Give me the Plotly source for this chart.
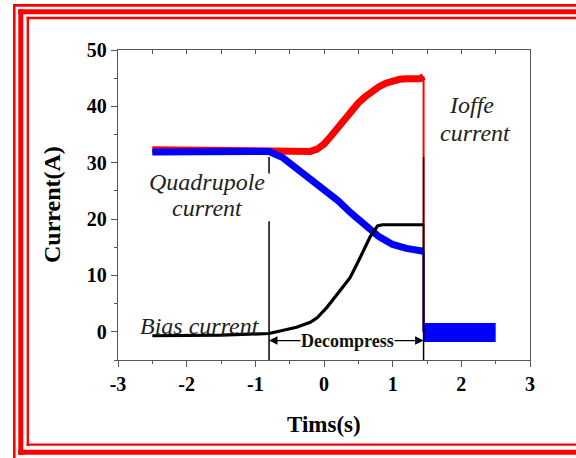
import plotly.graph_objects as go

# ---- measured currents (A) versus time (s) ----
ioffe_t = [-2.5, -1.5, -0.8, -0.2, -0.1, 0.0, 0.1, 0.2, 0.3, 0.4, 0.5, 0.6, 0.7, 0.8, 0.9,
           1.0, 1.1, 1.2, 1.4, 1.45]
ioffe_i = [32.3, 32.2, 32.1, 32.0, 32.4, 33.3, 34.7, 36.3, 37.9, 39.3, 40.6, 41.7, 42.7, 43.5,
           44.1, 44.6, 44.8, 44.9, 44.9, 45.3]

quad_t = [-2.5, -1.5, -0.8, -0.6, -0.4, -0.2, 0.0, 0.2, 0.4, 0.6, 0.8, 1.0, 1.2, 1.45]
quad_i = [31.9, 31.9, 32.0, 30.9, 29.0, 27.0, 25.2, 23.3, 21.0, 18.9, 16.9, 15.5, 14.8, 14.3]

bias_t = [-2.5, -1.5, -0.8, -0.6, -0.4, -0.2, -0.1, 0.04, 0.23, 0.38, 0.52, 0.67, 0.78, 0.85, 1.45]
bias_i = [-0.7, -0.6, -0.3, 0.2, 0.8, 1.7, 2.5, 4.3, 7.3, 9.6, 13.0, 16.8, 18.8, 19.0, 19.0]

# switch-off: all coils drop to zero at the end of decompression
switch_t = 1.45
switch_level = 0.0

# residual current after the coils are switched off
tail_t = [1.45, 2.5]
tail_i = [-0.1, -0.1]

# decompression window
decomp_start = -0.8
decomp_end = 1.45
marker_top = 31.0
arrow_level = -1.55

x_ticks = [-3, -2, -1, 0, 1, 2, 3]
y_ticks = [0, 10, 20, 30, 40, 50]

# ---- page geometry ----
W, H = 576, 458
L, R, T, B = 118, 530, 50, 360


def px(x):
    return (x - L) / (R - L)


def py(y):
    return (B - y) / (B - T)


SERIF = "Liberation Serif"
AXIS_COLOR = "#555555"
RED, BLUE, BLACK = "#ff0000", "#0000ff", "#000000"

fig = go.Figure()


def add_line(x, y, color, width):
    fig.add_trace(go.Scatter(x=x, y=y, mode="lines", line=dict(color=color, width=width),
                             showlegend=False, hoverinfo="skip"))


add_line(ioffe_t, ioffe_i, RED, 7)
add_line([switch_t, switch_t], [ioffe_i[-1], switch_level], RED, 2)
add_line(quad_t, quad_i, BLUE, 7)
add_line([switch_t, switch_t], [quad_i[-1], switch_level], BLUE, 2)
add_line(tail_t, tail_i, BLUE, 19)
add_line(bias_t, bias_i, BLACK, 3.2)
add_line([switch_t, switch_t], [bias_i[-1], switch_level], BLACK, 1.5)
# carrier for the top axis
fig.add_trace(go.Scatter(x=[], y=[], xaxis="x2", showlegend=False))

shapes = []
# start / end markers of the decompression stage
shapes.append(dict(type="line", xref="x", yref="y", x0=decomp_start, x1=decomp_start,
                   y0=-5, y1=19.6, line=dict(color="black", width=1.5)))
shapes.append(dict(type="line", xref="x", yref="y", x0=decomp_start, x1=decomp_start,
                   y0=28.1, y1=marker_top, line=dict(color="black", width=1.5)))
shapes.append(dict(type="line", xref="x", yref="y", x0=decomp_end, x1=decomp_end,
                   y0=-5, y1=marker_top, line=dict(color="black", width=1.5)))

# triple red page frame
frame = [
    # outer
    (14.3, 4, 14.3, 470, 2.6), (13, 5.4, 600, 5.4, 2.8),
    # middle
    (20.8, 9.2, 20.8, 455, 5), (18.3, 11.8, 600, 11.8, 5), (18.3, 452.3, 600, 452.3, 5),
    # inner
    (27.8, 16.8, 27.8, 446, 2.4), (26.6, 18, 600, 18, 2.4), (26.6, 444.6, 600, 444.6, 2.4),
]
for x0, y0, x1, y1, w in frame:
    shapes.append(dict(type="line", xref="paper", yref="paper",
                       x0=px(x0), y0=py(y0), x1=px(x1), y1=py(y1),
                       line=dict(color=RED, width=w)))

ann = []
italic = dict(family=SERIF, size=24, color="#222222", style="italic")
ann.append(dict(x=-1.70, y=26.6, text="Quadrupole", showarrow=False, font=italic))
ann.append(dict(x=-1.69, y=22.0, text="current", showarrow=False, font=italic))
ann.append(dict(x=2.15, y=40.2, text="Ioffe", showarrow=False, font=italic))
ann.append(dict(x=2.20, y=35.3, text="current", showarrow=False, font=italic))
ann.append(dict(x=-1.81, y=1.0, text="Bias current", showarrow=False, font=italic))

mid = (decomp_start + decomp_end) / 2
for tip in (decomp_start, decomp_end):
    ann.append(dict(x=tip, y=arrow_level, ax=mid, ay=arrow_level, axref="x", ayref="y",
                    text="", showarrow=True, arrowhead=2, arrowsize=1.3,
                    arrowwidth=1.3, arrowcolor="black", standoff=0))
ann.append(dict(x=mid + 0.02, y=arrow_level, text="Decompress", showarrow=False,
                bgcolor="white", borderpad=0,
                font=dict(family=SERIF, size=18, color="#111111", weight="bold")))

# axis titles
ann.append(dict(xref="paper", yref="paper", x=px(52), y=0.5, text="Current(A)",
                xanchor="center", yanchor="middle", textangle=-90, showarrow=False,
                font=dict(family=SERIF, size=24, color="black", weight="bold")))
ann.append(dict(xref="paper", yref="paper", x=px(324), y=py(424), text="Tims(s)",
                xanchor="center", yanchor="middle", showarrow=False,
                font=dict(family=SERIF, size=23, color="black", weight="bold")))

tickfont = dict(family=SERIF, size=20, color="black", weight="bold")

fig.update_layout(
    width=W, height=H,
    margin=dict(l=L, r=W - R, t=T, b=H - B, pad=0),
    paper_bgcolor="white", plot_bgcolor="white",
    shapes=shapes, annotations=ann,
    xaxis=dict(range=[-3, 3], tickvals=x_ticks, ticktext=[str(v) for v in x_ticks],
               ticks="outside", ticklen=6, tickwidth=1.3, tickcolor=AXIS_COLOR,
               minor=dict(dtick=0.5, tick0=-3, ticks="outside", ticklen=3,
                          tickwidth=1.3, tickcolor=AXIS_COLOR),
               showline=True, linecolor=AXIS_COLOR, linewidth=1.3,
               showgrid=False, zeroline=False, tickfont=tickfont),
    xaxis2=dict(range=[-3, 3], overlaying="x", anchor="y", side="top",
                dtick=0.5, tick0=-3, ticks="inside", ticklen=4, tickwidth=1.3,
                tickcolor=AXIS_COLOR, showticklabels=False,
                showline=True, linecolor=AXIS_COLOR, linewidth=1.3,
                showgrid=False, zeroline=False),
    yaxis=dict(range=[-5, 50], tickvals=y_ticks,
               ticks="outside", ticklen=6, tickwidth=1.3, tickcolor=AXIS_COLOR,
               minor=dict(dtick=5, tick0=0, ticks="outside", ticklen=3,
                          tickwidth=1.3, tickcolor=AXIS_COLOR),
               showline=True, mirror=True, linecolor=AXIS_COLOR, linewidth=1.3,
               showgrid=False, zeroline=False, tickfont=tickfont),
)

fig.write_html("out.html")
